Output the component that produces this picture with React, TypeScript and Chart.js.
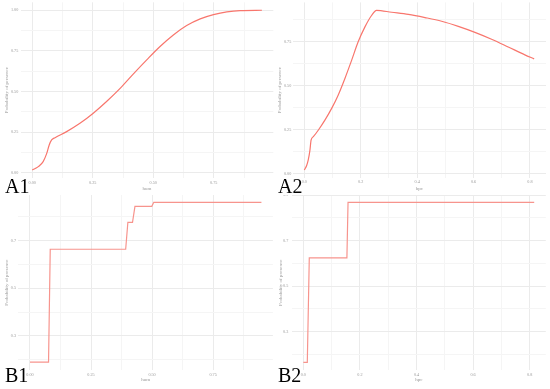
import React, { useEffect, useRef } from 'react';
import { Chart, registerables } from 'chart.js';
Chart.register(...registerables);

// ---------- Data ----------
const Y_TITLE = 'Probability of presence';

// A1: hum (smooth response)
const A1_X = [0, 0.025, 0.045, 0.059, 0.07, 0.08, 0.094, 0.142, 0.197, 0.252, 0.307, 0.363, 0.418, 0.473, 0.528, 0.583, 0.638, 0.694, 0.749, 0.804, 0.859, 0.949];
const A1_Y = [0.018, 0.039, 0.07, 0.117, 0.172, 0.203, 0.217, 0.254, 0.305, 0.367, 0.439, 0.52, 0.609, 0.695, 0.777, 0.848, 0.906, 0.947, 0.973, 0.99, 0.998, 1.0];
const A1_X_TICKS = [0, 0.25, 0.5, 0.75];
const A1_X_LABELS = ['0.00', '0.25', '0.50', '0.75'];
const A1_Y_TICKS = [0, 0.25, 0.5, 0.75, 1.0];
const A1_Y_LABELS = ['0.00', '0.25', '0.50', '0.75', '1.00'];

// A2: hpc (smooth response)
const A2_X = [0, 0.008, 0.014, 0.02, 0.024, 0.032, 0.05, 0.073, 0.097, 0.12, 0.144, 0.168, 0.191, 0.215, 0.239, 0.256, 0.31, 0.369, 0.428, 0.487, 0.546, 0.605, 0.664, 0.723, 0.782, 0.815];
const A2_Y = [0.021, 0.045, 0.078, 0.134, 0.191, 0.21, 0.248, 0.304, 0.371, 0.446, 0.541, 0.645, 0.749, 0.834, 0.9, 0.928, 0.917, 0.905, 0.887, 0.866, 0.837, 0.803, 0.764, 0.72, 0.675, 0.652];
const A2_X_TICKS = [0, 0.2, 0.4, 0.6, 0.8];
const A2_X_LABELS = ['0.0', '0.2', '0.4', '0.6', '0.8'];
const A2_Y_TICKS = [0, 0.25, 0.5, 0.75, 1.0];
const A2_Y_LABELS = ['0.00', '0.25', '0.50', '0.75', '1.00'];

// B1: hum (step response)
const B1_X = [0, 0.076, 0.083, 0.392, 0.401, 0.42, 0.43, 0.499, 0.507, 0.948];
const B1_Y = [0.19, 0.19, 0.664, 0.664, 0.777, 0.777, 0.844, 0.844, 0.861, 0.861];
const B1_X_TICKS = [0, 0.25, 0.5, 0.75];
const B1_X_LABELS = ['0.00', '0.25', '0.50', '0.75'];
const B1_Y_TICKS = [0.3, 0.5, 0.7, 0.9];
const B1_Y_LABELS = ['0.3', '0.5', '0.7', '0.9'];

// B2: hpc (step response)
const B2_X = [0, 0.014, 0.021, 0.154, 0.158, 0.816];
const B2_Y = [0.165, 0.165, 0.625, 0.625, 0.869, 0.869];
const B2_X_TICKS = [0, 0.2, 0.4, 0.6, 0.8];
const B2_X_LABELS = ['0.0', '0.2', '0.4', '0.6', '0.8'];
const B2_Y_TICKS = [0.3, 0.5, 0.7, 0.9];
const B2_Y_LABELS = ['0.3', '0.5', '0.7', '0.9'];

const PANEL_LABELS = ['A1', 'A2', 'B1', 'B2'];
const X_TITLES = ['hum', 'hpc', 'hum', 'hpc'];

// ---------- Styling ----------
const A_LINE_COLOR = '#F8766D';
const B_LINE_COLOR = '#F7948D';
const MAJOR_GRID = '#ebebeb';
const MINOR_GRID = '#f5f5f5';
const TICK_COLOR = '#999';
const TITLE_COLOR = '#999';
const SERIF = '"Liberation Serif", "DejaVu Serif", serif';

type Geo = {
  left: number; top: number; w: number; h: number;
  pl: number; pr: number; pt: number; pb: number;
  xmin: number; xmax: number; ymin: number; ymax: number;
  yLabPad: number; yTitleX: number; xLabPad: number; xTitleY: number;
  xMinorStep: number; yMinorStep: number;
  smooth: boolean; lw: number; color: string;
};

type PanelData = {
  xs: number[]; ys: number[];
  xTicks: number[]; xLabels: string[];
  yTicks: number[]; yLabels: string[];
  xTitle: string;
};

function near(a: number, b: number) { return Math.abs(a - b) < 1e-6; }

function allTicks(major: number[], minorStep: number, min: number, max: number) {
  const vals: number[] = [...major];
  const step = major[1] - major[0];
  for (let v = major[0] - step; v <= max + 1e-9; v += step) {
    const m = v + minorStep;
    if (m >= min - 1e-9 && m <= max + 1e-9) vals.push(m);
  }
  return vals.filter(v => v >= min - 1e-9 && v <= max + 1e-9).sort((a, b) => a - b);
}

function Panel({ g, d }: { g: Geo; d: PanelData }) {
  const ref = useRef<HTMLCanvasElement>(null);
  useEffect(() => {
    const isMajor = (v: number, arr: number[]) => arr.some(t => near(t, v));
    const xAll = allTicks(d.xTicks, g.xMinorStep, g.xmin, g.xmax);
    const yAll = allTicks(d.yTicks, g.yMinorStep, g.ymin, g.ymax);
    const tickFont = { family: SERIF, size: 4.2, lineHeight: 1.2 };
    const titleFont = { family: SERIF, size: 5, lineHeight: 1.2 };
    const chart = new Chart(ref.current as HTMLCanvasElement, {
      type: 'line',
      data: {
        datasets: [{
          data: d.xs.map((x, i) => ({ x, y: d.ys[i] })),
          borderColor: g.color,
          borderWidth: g.lw,
          pointRadius: 0,
          fill: false,
          cubicInterpolationMode: g.smooth ? 'monotone' : 'default',
          tension: 0,
        }],
      },
      options: {
        responsive: false,
        maintainAspectRatio: false,
        animation: false,
        events: [],
        layout: { padding: { left: 0, right: g.w - g.pr, top: g.pt, bottom: 0 } },
        plugins: { legend: { display: false }, tooltip: { enabled: false } },
        scales: {
          x: {
            type: 'linear',
            min: g.xmin,
            max: g.xmax,
            afterBuildTicks: (s: any) => { s.ticks = xAll.map(v => ({ value: v })); },
            afterFit: (s: any) => { s.height = g.h - g.pb; s.paddingLeft = 0; s.paddingRight = 0; },
            ticks: {
              autoSkip: false,
              maxRotation: 0,
              padding: g.xLabPad,
              color: TICK_COLOR,
              font: tickFont,
              callback: (v: any) => {
                const i = d.xTicks.findIndex(t => near(t, Number(v)));
                return i >= 0 ? d.xLabels[i] : '';
              },
            },
            grid: {
              drawTicks: false,
              color: (ctx: any) => (ctx.tick && isMajor(ctx.tick.value, d.xTicks) ? MAJOR_GRID : MINOR_GRID),
              lineWidth: 1,
            },
            border: { display: false },
            title: {
              display: true,
              text: d.xTitle,
              color: TITLE_COLOR,
              font: titleFont,
              padding: { top: 0, bottom: g.h - 3 - g.xTitleY },
            },
          },
          y: {
            type: 'linear',
            min: g.ymin,
            max: g.ymax,
            afterBuildTicks: (s: any) => { s.ticks = yAll.map(v => ({ value: v })); },
            afterFit: (s: any) => { s.width = g.pl; s.paddingTop = 0; s.paddingBottom = 0; },
            ticks: {
              autoSkip: false,
              padding: g.yLabPad,
              color: TICK_COLOR,
              font: tickFont,
              callback: (v: any) => {
                const i = d.yTicks.findIndex(t => near(t, Number(v)));
                return i >= 0 ? d.yLabels[i] : '';
              },
            },
            grid: {
              drawTicks: false,
              color: (ctx: any) => (ctx.tick && isMajor(ctx.tick.value, d.yTicks) ? MAJOR_GRID : MINOR_GRID),
              lineWidth: 1,
            },
            border: { display: false },
            title: {
              display: true,
              text: Y_TITLE,
              color: TITLE_COLOR,
              font: titleFont,
              padding: { top: g.yTitleX - 3, bottom: 0 },
            },
          },
        },
      } as any,
    });
    return () => chart.destroy();
  }, []);
  return (
    <canvas
      ref={ref}
      width={g.w}
      height={g.h}
      style={{ position: 'absolute', left: g.left, top: g.top, width: g.w, height: g.h }}
    />
  );
}

const GEOS: Geo[] = [
  { left: 0, top: 0, w: 275, h: 195, pl: 20.8, pr: 273.3, pt: 2.3, pb: 178,
    xmin: -0.0474, xmax: 0.996, ymin: -0.031, ymax: 1.049,
    yLabPad: 2.5, yTitleX: 6.2, xLabPad: 2.2, xTitleY: 188.7,
    xMinorStep: 0.125, yMinorStep: 0.125, smooth: true, lw: 1.2, color: A_LINE_COLOR },
  { left: 275, top: 0, w: 275, h: 195, pl: 17.8, pr: 271, pt: 2.4, pb: 177.9,
    xmin: -0.0408, xmax: 0.857, ymin: -0.024, ymax: 0.973,
    yLabPad: 1.5, yTitleX: 4.7, xLabPad: 1.6, xTitleY: 188.3,
    xMinorStep: 0.1, yMinorStep: 0.125, smooth: true, lw: 1.2, color: A_LINE_COLOR },
  { left: 0, top: 195, w: 275, h: 194, pl: 18.4, pr: 272.9, pt: 0, pb: 175.3,
    xmin: -0.0474, xmax: 0.995, ymin: 0.156, ymax: 0.8916,
    yLabPad: 2.4, yTitleX: 7, xLabPad: 2.2, xTitleY: 184.3,
    xMinorStep: 0.125, yMinorStep: 0.1, smooth: false, lw: 1.2, color: B_LINE_COLOR },
  { left: 275, top: 195, w: 275, h: 194, pl: 16.8, pr: 270.8, pt: 0, pb: 175.4,
    xmin: -0.0408, xmax: 0.857, ymin: 0.13, ymax: 0.901,
    yLabPad: 3.5, yTitleX: 5.3, xLabPad: 2.1, xTitleY: 184.3,
    xMinorStep: 0.1, yMinorStep: 0.1, smooth: false, lw: 1.2, color: B_LINE_COLOR },
];

const DATA: PanelData[] = [
  { xs: A1_X, ys: A1_Y, xTicks: A1_X_TICKS, xLabels: A1_X_LABELS, yTicks: A1_Y_TICKS, yLabels: A1_Y_LABELS, xTitle: X_TITLES[0] },
  { xs: A2_X, ys: A2_Y, xTicks: A2_X_TICKS, xLabels: A2_X_LABELS, yTicks: A2_Y_TICKS, yLabels: A2_Y_LABELS, xTitle: X_TITLES[1] },
  { xs: B1_X, ys: B1_Y, xTicks: B1_X_TICKS, xLabels: B1_X_LABELS, yTicks: B1_Y_TICKS, yLabels: B1_Y_LABELS, xTitle: X_TITLES[2] },
  { xs: B2_X, ys: B2_Y, xTicks: B2_X_TICKS, xLabels: B2_X_LABELS, yTicks: B2_Y_TICKS, yLabels: B2_Y_LABELS, xTitle: X_TITLES[3] },
];

// label positions: [left, baseline]
const LABEL_POS: [number, number][] = [[5, 193], [278, 193], [5, 382], [278, 382]];
const LABEL_SIZE = 20;

export default function App() {
  return (
    <div style={{ position: 'absolute', left: 0, top: 0, width: 550, height: 389, background: '#fff', overflow: 'hidden' }}>
      {GEOS.map((g, i) => <Panel key={i} g={g} d={DATA[i]} />)}
      {PANEL_LABELS.map((t, i) => (
        <span
          key={t}
          style={{
            position: 'absolute',
            left: LABEL_POS[i][0],
            top: LABEL_POS[i][1] - LABEL_SIZE * 0.891 + LABEL_SIZE * 0.0535,
            fontFamily: SERIF,
            fontSize: LABEL_SIZE,
            lineHeight: `${LABEL_SIZE}px`,
            color: '#000',
            whiteSpace: 'nowrap',
          }}
        >
          {t}
        </span>
      ))}
    </div>
  );
}
